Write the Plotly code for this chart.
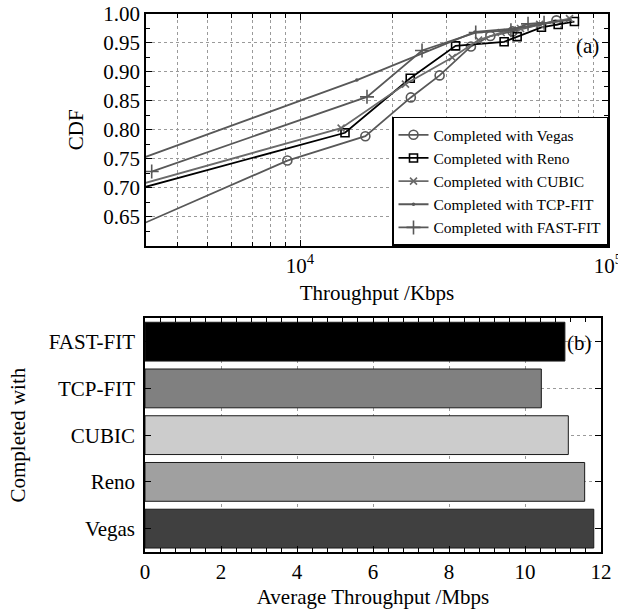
import plotly.graph_objects as go

# ---- CDF of per-flow throughput (Kbps), one curve per congestion control ----
vegas_x = [2000, 9100, 16300, 22900, 28400, 35900, 41500, 49000, 68000]
vegas_y = [0.594, 0.747, 0.789, 0.856, 0.894, 0.944, 0.962, 0.970, 0.989]

reno_x = [2000, 14000, 22800, 32000, 46000, 50700, 60800, 68900, 77800]
reno_y = [0.673, 0.795, 0.889, 0.945, 0.952, 0.961, 0.977, 0.982, 0.987]

cubic_x = [2000, 13600, 22000, 31200, 38000, 45000, 52000, 60000, 75000]
cubic_y = [0.679, 0.803, 0.879, 0.925, 0.955, 0.968, 0.975, 0.982, 0.992]

tcpfit_x = [2000, 15300, 37000, 50000, 60000, 75000]
tcpfit_y = [0.715, 0.886, 0.969, 0.975, 0.982, 0.990]

fastfit_x = [3300, 16500, 24900, 37200, 48400, 55000, 62000]
fastfit_y = [0.728, 0.857, 0.937, 0.968, 0.972, 0.983, 0.985]

# ---- Average throughput (Mbps) ----
bar_labels = ["Vegas", "Reno", "CUBIC", "TCP-FIT", "FAST-FIT"]
bar_values = [11.81, 11.57, 11.14, 10.43, 11.05]
bar_colors = ["#404040", "#a0a0a0", "#cccccc", "#808080", "#000000"]

FONT = "Liberation Serif, Times New Roman, serif"
FS = 21
GRAY = "#585858"
GRID = "#9a9a9a"

fig = go.Figure()

series = [
    ("Completed with Vegas", vegas_x, vegas_y, GRAY, "circle-open", 9),
    ("Completed with Reno", reno_x, reno_y, "#000000", "square-open", 8),
    ("Completed with CUBIC", cubic_x, cubic_y, "#6a6a6a", "x-thin-open", 7),
    ("Completed with TCP-FIT", tcpfit_x, tcpfit_y, GRAY, "circle", 2),
    ("Completed with FAST-FIT", fastfit_x, fastfit_y, GRAY, "cross-thin-open", 10),
]
for name, xs, ys, col, sym, sz in series:
    fig.add_trace(go.Scatter(
        x=xs, y=ys, name=name, mode="lines+markers",
        line=dict(color=col, width=1.8),
        marker=dict(symbol=sym, size=sz, color=col,
                    line=dict(color=col, width=1.6)),
        xaxis="x", yaxis="y",
    ))

fig.add_trace(go.Bar(
    y=bar_labels, x=bar_values, orientation="h",
    marker=dict(color=bar_colors, line=dict(color="#1a1a1a", width=1)),
    showlegend=False, xaxis="x2", yaxis="y2",
))

minor_x = [4000, 5000, 6000, 7000, 8000, 9000,
           20000, 30000, 40000, 50000, 60000, 70000, 80000, 90000]

axis_common = dict(
    showline=True, linecolor="black", linewidth=1.5, mirror="ticks",
    ticks="inside", tickcolor="black", tickwidth=1,
    tickfont=dict(family=FONT, size=FS, color="black"),
    zeroline=False, automargin=False, ticklabeloverflow="allow",
)

fig.update_layout(
    width=618, height=611,
    margin=dict(l=145, r=10, t=14, b=59),
    paper_bgcolor="white", plot_bgcolor="white",
    font=dict(family=FONT, color="black"),
    bargap=0.17,
    xaxis=dict(
        axis_common, type="log", domain=[1 / 463, 1],
        range=[3.5, 5.0], anchor="y",
        tickvals=[1e4, 1e5], ticktext=["10<sup>4</sup>", "10<sup>5</sup>"],
        ticklen=6,
        showgrid=True, griddash="dot", gridcolor=GRID, gridwidth=1,
        minor=dict(tickvals=minor_x, ticks="inside", ticklen=4,
                   tickcolor="black", showgrid=True, griddash="dot",
                   gridcolor=GRID, gridwidth=1),
        title=dict(text="Throughput /Kbps",
                   font=dict(family=FONT, size=FS), standoff=9),
    ),
    yaxis=dict(
        axis_common, domain=[0.5693, 1.0], range=[0.6, 1.0], anchor="x",
        tickvals=[0.65, 0.70, 0.75, 0.80, 0.85, 0.90, 0.95, 1.00],
        tickformat=".2f", ticklen=6,
        showgrid=True, griddash="dot", gridcolor=GRID, gridwidth=1,
        minor=dict(dtick=0.025, tick0=0.6, ticks="inside", ticklen=4,
                   tickcolor="black", showgrid=False),
        title=dict(text="CDF", font=dict(family=FONT, size=FS), standoff=14),
    ),
    xaxis2=dict(
        axis_common, domain=[0, 456 / 463], range=[0, 12], anchor="y2",
        dtick=2, tick0=0, ticklen=6,
        showgrid=True, griddash="dot", gridcolor=GRID, gridwidth=1,
        minor=dict(dtick=0.4, tick0=0, ticks="inside", ticklen=4,
                   tickcolor="black", showgrid=False),
        title=dict(text="Average Throughput /Mbps",
                   font=dict(family=FONT, size=FS), standoff=6),
    ),
    yaxis2=dict(
        axis_common, domain=[0, 0.4344], range=[-0.5, 4.5], anchor="x2",
        type="category", ticklen=6,
        showgrid=True, griddash="dot", gridcolor=GRID, gridwidth=1,
        ticklabelstandoff=4,
        title=dict(text="Completed with",
                   font=dict(family=FONT, size=FS), standoff=17),
    ),
    legend=dict(
        x=1.0, y=0.5693, xanchor="right", yanchor="bottom",
        xref="paper", yref="paper",
        bgcolor="white", bordercolor="black", borderwidth=1.5,
        font=dict(family=FONT, size=15.5, color="black"),
        tracegroupgap=0, itemwidth=30,
    ),
    annotations=[
        dict(text="(a)", xref="x domain", yref="y domain", x=0.985, y=0.86,
             xanchor="right", yanchor="middle", showarrow=False,
             font=dict(family=FONT, size=FS, color="black")),
        dict(text="(b)", xref="x2 domain", yref="y2 domain", x=0.985, y=0.896,
             xanchor="right", yanchor="middle", showarrow=False,
             font=dict(family=FONT, size=FS, color="black")),
    ],
)

fig.write_html("out.html")
